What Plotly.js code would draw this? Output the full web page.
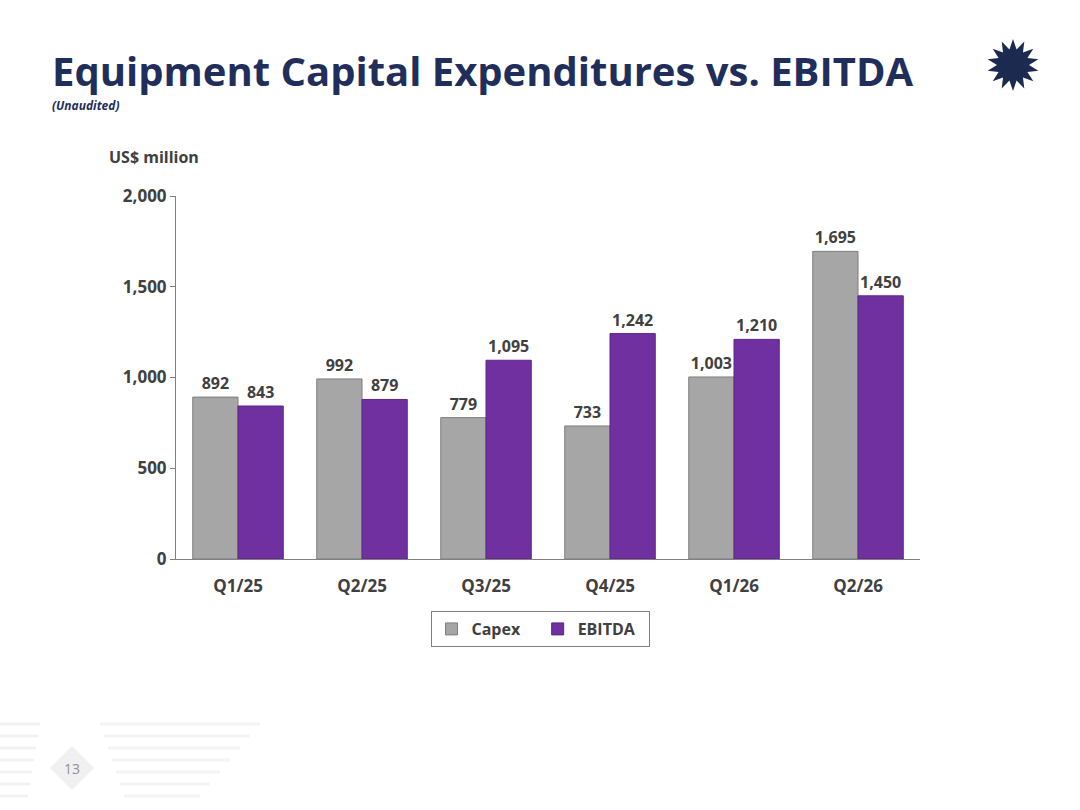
<!DOCTYPE html>
<html>
<head>
<meta charset="utf-8">
<script src="https://cdn.plot.ly/plotly-3.0.1.min.js"></script>
<style>html,body{margin:0;padding:0;background:#fff}#chart{width:1080px;height:810px}</style>
</head>
<body>
<div id="chart"></div>
<script>
// Quarterly values, US$ million
const quarters = ['Q1/25', 'Q2/25', 'Q3/25', 'Q4/25', 'Q1/26', 'Q2/26'];
const capex = [892, 992, 779, 733, 1003, 1695];
const ebitda = [843, 879, 1095, 1242, 1210, 1450];
const yTicks = [0, 500, 1000, 1500, 2000];

const W = 1080, H = 810;
const M = { l: 176, r: 160, t: 196, b: 251 };
const pw = W - M.l - M.r, ph = H - M.t - M.b;
// pixel -> paper helpers for decorations
const px = x => (x - M.l) / pw;
const py = y => (H - M.b - y) / ph;

const labelFont = { family: 'Open Sans, sans-serif', size: 16, color: '#404040', weight: 'bold' };

const traceCapex = {
    type: 'bar', name: '<b>Capex</b>   ', x: quarters, y: capex,
    marker: { color: '#a6a6a6', line: { color: '#7f7f7f', width: 1 } },
    text: capex.map(v => '<b>' + v.toLocaleString('en-US') + '</b>'),
    textposition: 'outside', textfont: labelFont, cliponaxis: false,
    hoverinfo: 'skip'
};
const traceEbitda = {
    type: 'bar', name: '<b>EBITDA</b>  ', x: quarters, y: ebitda,
    marker: { color: '#7030a0', line: { color: '#5b2585', width: 1 } },
    text: ebitda.map(v => '<b>' + v.toLocaleString('en-US') + '</b>'),
    textposition: 'outside', textfont: labelFont, cliponaxis: false,
    hoverinfo: 'skip'
};

// sun logo outline (decoration)
function starPath(cx, cy, r1, r2, n) {
    let d = '';
    for (let i = 0; i < 2 * n; i++) {
        const r = i % 2 ? r2 : r1;
        const a = Math.PI * i / n - Math.PI / 2;
        d += (i ? 'L' : 'M') + px(cx + r * Math.cos(a)).toFixed(4) + ',' + py(cy + r * Math.sin(a)).toFixed(4);
    }
    return d + 'Z';
}

const shapes = [
    { type: 'path', xref: 'paper', yref: 'paper', path: starPath(1013, 65, 26, 16, 14),
      fillcolor: '#1b2a4e', line: { width: 0 } },
    { type: 'path', xref: 'paper', yref: 'paper',
      path: 'M' + px(72) + ',' + py(746) + 'L' + px(94) + ',' + py(768) + 'L' + px(72) + ',' + py(790) + 'L' + px(50) + ',' + py(768) + 'Z',
      fillcolor: '#f0f0f0', line: { width: 0 } }
];
// faint circuit lines bottom-left
[724, 736, 748, 760, 772, 784, 796].forEach((y, i) => {
    shapes.push({ type: 'line', xref: 'paper', yref: 'paper', x0: px(0), x1: px(40 - i * 2), y0: py(y), y1: py(y),
        line: { color: '#f2f2f2', width: 3 } });
    shapes.push({ type: 'line', xref: 'paper', yref: 'paper', x0: px(100 + i * 4), x1: px(260 - i * 10), y0: py(y), y1: py(y),
        line: { color: '#f4f4f4', width: 3 } });
});

const layout = {
    width: W, height: H,
    margin: M,
    paper_bgcolor: '#ffffff', plot_bgcolor: '#ffffff',
    font: { family: 'Open Sans, sans-serif', color: '#404040' },
    barmode: 'group', bargap: 0.27, bargroupgap: 0,
    showlegend: true,
    legend: {
        orientation: 'h', x: px(540), xanchor: 'center', y: py(611), yanchor: 'top',
        bordercolor: '#7f7f7f', borderwidth: 1, font: { size: 16, color: '#404040' },
        itemwidth: 30, traceorder: 'normal'
    },
    xaxis: {
        tickfont: { size: 17, color: '#404040', weight: 'bold' },
        showline: true, linecolor: '#808080', linewidth: 1,
        ticks: 'outside', ticklen: 0, showgrid: false, ticklabelstandoff: 12
    },
    yaxis: {
        range: [0, 2000], tickvals: yTicks, ticktext: yTicks.map(v => '<b>' + v.toLocaleString('en-US') + '</b>'),
        tickfont: { size: 17, color: '#404040' },
        showline: true, linecolor: '#808080', linewidth: 1,
        ticks: 'outside', ticklen: 5, tickcolor: '#808080', showgrid: false, zeroline: false
    },
    shapes: shapes,
    annotations: [
        { xref: 'paper', yref: 'paper', x: px(50), y: py(70), xanchor: 'left', yanchor: 'middle', showarrow: false,
          text: '<b>Equipment Capital Expenditures vs. EBITDA</b>',
          font: { family: 'Open Sans, sans-serif', size: 40, color: '#1f2e5a' } },
        { xref: 'paper', yref: 'paper', x: px(50), y: py(105), xanchor: 'left', yanchor: 'middle', showarrow: false,
          text: '<b><i>(Unaudited)</i></b>', font: { size: 12, color: '#1f2e5a' } },
        { xref: 'paper', yref: 'paper', x: px(107), y: py(157), xanchor: 'left', yanchor: 'middle', showarrow: false,
          text: '<b>US$ million</b>', font: { size: 16, color: '#404040' } },
        { xref: 'paper', yref: 'paper', x: px(72), y: py(768), xanchor: 'center', yanchor: 'middle', showarrow: false,
          text: '13', font: { size: 14, color: '#909090' } }
    ]
};

Plotly.newPlot('chart', [traceCapex, traceEbitda], layout, { displayModeBar: false, staticPlot: true });
</script>
</body>
</html>
